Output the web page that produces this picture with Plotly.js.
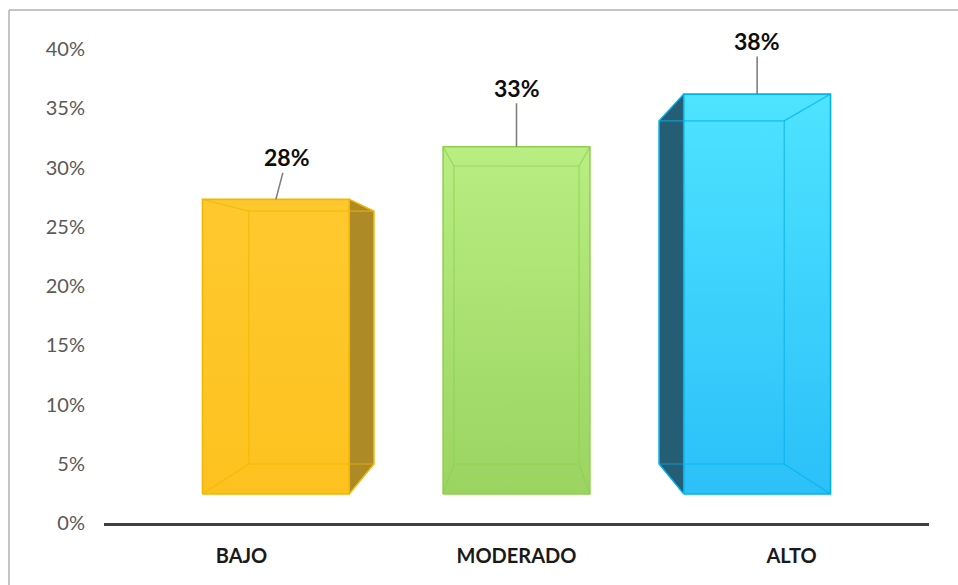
<!DOCTYPE html>
<html>
<head>
<meta charset="utf-8">
<script src="https://cdn.plot.ly/plotly-3.0.1.min.js"></script>
<style>
  html, body { margin: 0; padding: 0; background: #ffffff; }
  #chart { width: 958px; height: 585px; }
</style>
</head>
<body>
<div id="chart"></div>
<script>
// ---------------- DATA ----------------
const categories = ["BAJO", "MODERADO", "ALTO"];
const values = [0.28, 0.33, 0.38];
const valueLabels = ["28%", "33%", "38%"];
const yTickValues = [0, 0.05, 0.10, 0.15, 0.20, 0.25, 0.30, 0.35, 0.40];

// ---------------- STYLE ----------------
const faceTop    = ["#FFC92E", "#B8EE82", "#4EE3FF"];
const faceBottom = ["#FDC21F", "#9BD461", "#2BC0F8"];
const edgeColor  = ["#F2B500", "#8FD14F", "#00B0F0"];
const sideColor  = ["#AE8A27", "#6FA03A", "#255D75"];
const labelOffsets = [[11, -42], [0, -59], [0, -53]];

// perspective projection of the 3D bars (Excel 3D column look)
const HALF_W = 0.305;               // half bar width (category units)
const VP_X = 1;                     // vanishing point (category units)
const FRONT = {sx: 0.875, y0: 0.0245, sy: 0.888};
const BACK  = {sx: 0.746, y0: 0.0498, sy: 0.762};
function px(face, xc) { return VP_X + (xc - VP_X) * face.sx; }
function py(face, v)  { return face.y0 + v * face.sy; }

const W = 958, H = 585;
const M = {l: 104, r: 29, t: 49, b: 62};
const plotW = W - M.l - M.r, plotH = H - M.t - M.b;
function paperX(p) { return (p - M.l) / plotW; }
function paperY(p) { return (H - M.b - p) / plotH; }

const FONT = "Lato, 'Liberation Sans', sans-serif";
const traces = [];
const annotations = [];

categories.forEach((cat, i) => {
  const v = values[i];
  const fL = px(FRONT, i - HALF_W), fR = px(FRONT, i + HALF_W);
  const bL = px(BACK,  i - HALF_W), bR = px(BACK,  i + HALF_W);
  const fB = py(FRONT, 0), fT = py(FRONT, v);
  const bB = py(BACK, 0),  bT = py(BACK, v);
  const base = {type: "scatter", mode: "lines", hoverinfo: "skip", showlegend: false};

  // visible side faces
  if (bR > fR) {
    traces.push(Object.assign({}, base, {
      x: [fR, bR, bR, fR, fR], y: [fB, bB, bT, fT, fB],
      fill: "toself", fillcolor: sideColor[i],
      line: {color: edgeColor[i], width: 1.2}
    }));
  }
  if (bL < fL) {
    traces.push(Object.assign({}, base, {
      x: [fL, bL, bL, fL, fL], y: [fB, bB, bT, fT, fB],
      fill: "toself", fillcolor: sideColor[i],
      line: {color: edgeColor[i], width: 1.2}
    }));
  }
  // front face
  traces.push(Object.assign({}, base, {
    x: [fL, fR, fR, fL, fL], y: [fB, fB, fT, fT, fB],
    fill: "toself",
    fillgradient: {type: "vertical", colorscale: [[0, faceBottom[i]], [1, faceTop[i]]]},
    fillcolor: faceBottom[i],
    line: {color: edgeColor[i], width: 1.6}
  }));
  // back edges seen through translucent front
  traces.push(Object.assign({}, base, {
    x: [bL, bR, bR, bL, bL], y: [bB, bB, bT, bT, bB],
    line: {color: edgeColor[i], width: 1.2}, opacity: 0.75
  }));
  traces.push(Object.assign({}, base, {
    x: [fL, bL, null, fR, bR, null, fL, bL, null, fR, bR],
    y: [fB, bB, null, fB, bB, null, fT, bT, null, fT, bT],
    line: {color: edgeColor[i], width: 1.2}, opacity: 0.75
  }));

  annotations.push({
    x: px(FRONT, i), y: fT, xref: "x", yref: "y",
    text: "<b>" + valueLabels[i] + "</b>",
    showarrow: true, arrowhead: 0, arrowwidth: 1.6, arrowcolor: "#808080",
    ax: labelOffsets[i][0], ay: labelOffsets[i][1],
    standoff: 0, startstandoff: 0,
    font: {family: FONT, size: 23, color: "#0d0d0d"}
  });
});

const layout = {
  width: W, height: H,
  margin: M,
  paper_bgcolor: "#ffffff", plot_bgcolor: "rgba(0,0,0,0)",
  showlegend: false,
  hovermode: false,
  xaxis: {
    range: [-0.5, 2.5], tickvals: [0, 1, 2], ticktext: categories,
    showgrid: false, zeroline: false, showline: true,
    linecolor: "#404040", linewidth: 3, ticks: "",
    ticklabelstandoff: 13,
    tickfont: {family: FONT, size: 20, color: "#1a1a1a", weight: "bold"},
    fixedrange: true
  },
  yaxis: {
    range: [0, 0.4], tickvals: yTickValues, tickformat: ".0%",
    showgrid: false, zeroline: false, showline: false, ticks: "",
    ticklabelstandoff: 18,
    tickfont: {family: FONT, size: 20, color: "#595959"},
    fixedrange: true
  },
  annotations: annotations,
  shapes: [
    {type: "line", xref: "paper", yref: "paper",
     x0: paperX(9), y0: paperY(10), x1: paperX(958), y1: paperY(10),
     line: {color: "#C4C4C4", width: 2}},
    {type: "line", xref: "paper", yref: "paper",
     x0: paperX(9), y0: paperY(10), x1: paperX(9), y1: paperY(590),
     line: {color: "#C4C4C4", width: 2}}
  ]
};

Plotly.newPlot("chart", traces, layout, {displayModeBar: false, staticPlot: true});
</script>
</body>
</html>
